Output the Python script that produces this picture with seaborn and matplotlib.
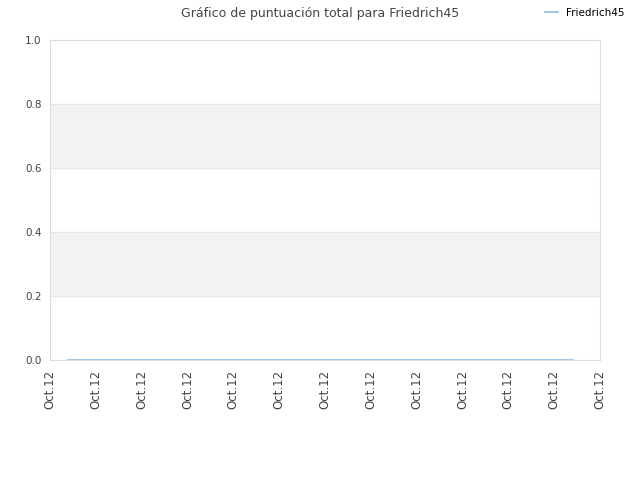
import matplotlib
matplotlib.use('Agg')
import matplotlib.pyplot as plt
import seaborn as sns
import pandas as pd

# Datos
jugador = 'Friedrich45'
horas = [0.8, 2.8, 4.8, 6.8, 8.8, 10.8, 12.8, 14.8, 16.8, 18.8, 20.8, 22.8]
puntuacion = [0, 0, 0, 0, 0, 0, 0, 0, 0, 0, 0, 0]
etiquetas_x = ['Oct.12'] * 13
posiciones_x = list(range(0, 25, 2))

df = pd.DataFrame({'hora': horas, 'puntuacion': puntuacion, 'jugador': jugador})

sns.set_style('white')
plt.rcParams['font.family'] = ['DejaVu Sans']

fig = plt.figure(figsize=(6.4, 4.8), dpi=100)
ax = fig.add_axes([50 / 640, 120 / 480, 550 / 640, 320 / 480])

# bandas alternas
for y0 in [0.2, 0.6]:
    ax.axhspan(y0, y0 + 0.2, color='#f2f2f2', zorder=0)

sns.lineplot(data=df, x='hora', y='puntuacion', hue='jugador', palette=['#9ec9ec'],
             linewidth=1.5, ax=ax, legend=False, zorder=3)

ax.set_xlim(0, 24)
ax.set_ylim(0, 1)
ax.set_yticks([0, 0.2, 0.4, 0.6, 0.8, 1.0])
ax.set_yticklabels(['0.0', '0.2', '0.4', '0.6', '0.8', '1.0'])
ax.set_xticks(posiciones_x)
ax.set_xticklabels(etiquetas_x, rotation=90)
ax.tick_params(axis='both', labelsize=7.5, colors='#444444', length=0, pad=6)
ax.tick_params(axis='x', labelsize=8.5, pad=7)
ax.yaxis.grid(True, color='#e6e6e6', linewidth=0.8)
ax.set_axisbelow(True)
for s in ax.spines.values():
    s.set_color('#dddddd')
    s.set_linewidth(0.8)
ax.set_xlabel('')
ax.set_ylabel('')

fig.text(0.5, 1 - 13 / 480, 'Gráfico de puntuación total para Friedrich45',
         ha='center', va='center', fontsize=9, color='#444444')

h = plt.Line2D([], [], color='#9ec9ec', linewidth=1.5)
fig.legend([h], [jugador], loc='center left', bbox_to_anchor=(536 / 640, 1 - 13 / 480),
           frameon=False, fontsize=7.5, handlelength=1.2, handletextpad=0.8,
           labelcolor='black')

fig.savefig('out.png', dpi=100)
